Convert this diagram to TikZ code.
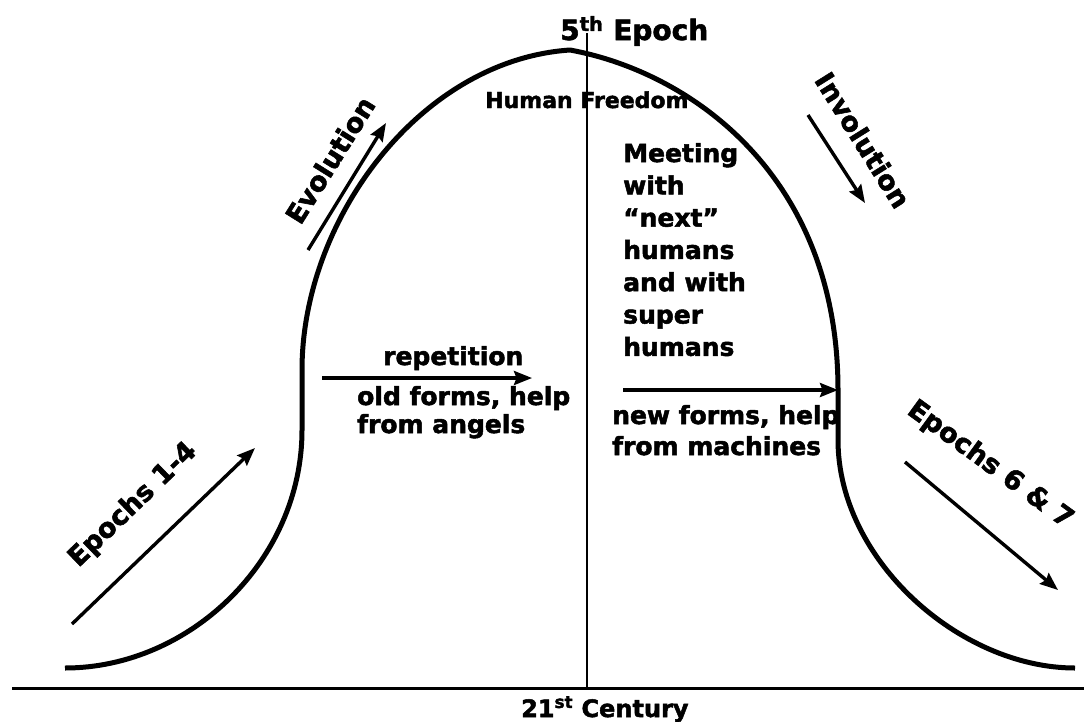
\documentclass[tikz,border=0pt]{standalone}
\usepackage{fontspec}
\setmainfont{DejaVu Sans}[BoldFeatures={FakeBold=2}]
\usetikzlibrary{arrows.meta}
\begin{document}
\begin{tikzpicture}[x=1pt,y=-1pt,
  lbl/.style={inner sep=0pt, anchor=base west, font=\fontsize{25}{30}\selectfont\bfseries},
  rot/.style={inner sep=0pt, anchor=center, font=\fontsize{27}{30}\selectfont\bfseries},
  arr/.style={line width=3.4pt, -{Stealth[length=18pt,width=14pt,inset=2.5pt]}},
  bell/.style={line width=5pt, line join=round}]
\useasboundingbox (0,0) rectangle (1084,721);

% axes
\coordinate (vtop) at (587,33);
\coordinate (vbot) at (587,688);
\coordinate (hl) at (12,688);
\coordinate (hr) at (1084,688);
\draw[line width=1.8pt] (vtop) -- (vbot);
\draw[line width=3pt] (hl) -- (hr);

% bell curve
\draw[bell] (65,668) .. controls (190,668) and (302,560) .. (302,430)
  -- (302,370) .. controls (302,220) and (420,60) .. (570,50)
  .. controls (690,72) and (838,175) .. (838,390)
  -- (838,440) .. controls (838,560) and (960,668) .. (1075,668);

% top labels
\node[lbl, font=\fontsize{28}{30}\selectfont\bfseries] (epoch5) at (560,40) {5\textsuperscript{th} Epoch};
\node[lbl, font=\fontsize{22}{25}\selectfont\bfseries] (freedom) at (485,108) {Human Freedom};

% right column text
\node[lbl] (m1) at (623,162) {Meeting};
\node[lbl] (m2) at (623,194.3) {with};
\node[lbl] (m3) at (623,226.6) {“next”};
\node[lbl] (m4) at (623,258.9) {humans};
\node[lbl] (m5) at (623,291.2) {and with};
\node[lbl] (m6) at (623,323.5) {super};
\node[lbl] (m7) at (623,355.8) {humans};

% middle texts
\node[lbl] (rep) at (383,365) {repetition};
\node[lbl] (old1) at (357,405) {old forms, help};
\node[lbl] (old2) at (357,433) {from angels};

\node[lbl] (new1) at (612,424) {new forms, help};
\node[lbl] (new2) at (612,455) {from machines};

% rotated labels
\node[rot, rotate=58] (evo) at (330,160) {Evolution};
\node[rot, rotate=-58] (invo) at (863,140) {Involution};
\node[rot, rotate=44] (e14) at (133,505) {Epochs 1-4};
\node[rot, rotate=-36] (e67) at (990,465) {Epochs 6 \& 7};

% bottom label
\node[lbl, font=\fontsize{24}{28}\selectfont\bfseries] (cent) at (521,717) {21\textsuperscript{st} Century};

% arrows
\coordinate (a1s) at (72,624);  \coordinate (a1e) at (255,448);
\coordinate (a2s) at (308,250); \coordinate (a2e) at (386,123);
\coordinate (a3s) at (808,115); \coordinate (a3e) at (865,203);
\coordinate (a4s) at (905,462); \coordinate (a4e) at (1058,590);
\coordinate (a5s) at (322,378); \coordinate (a5e) at (532,378);
\coordinate (a6s) at (623,390); \coordinate (a6e) at (838,390);
\draw[arr] (a1s) -- (a1e);
\draw[arr] (a2s) -- (a2e);
\draw[arr] (a3s) -- (a3e);
\draw[arr] (a4s) -- (a4e);
\draw[arr] (a5s) -- (a5e);
\draw[arr] (a6s) -- (a6e);
\end{tikzpicture}
\end{document}
